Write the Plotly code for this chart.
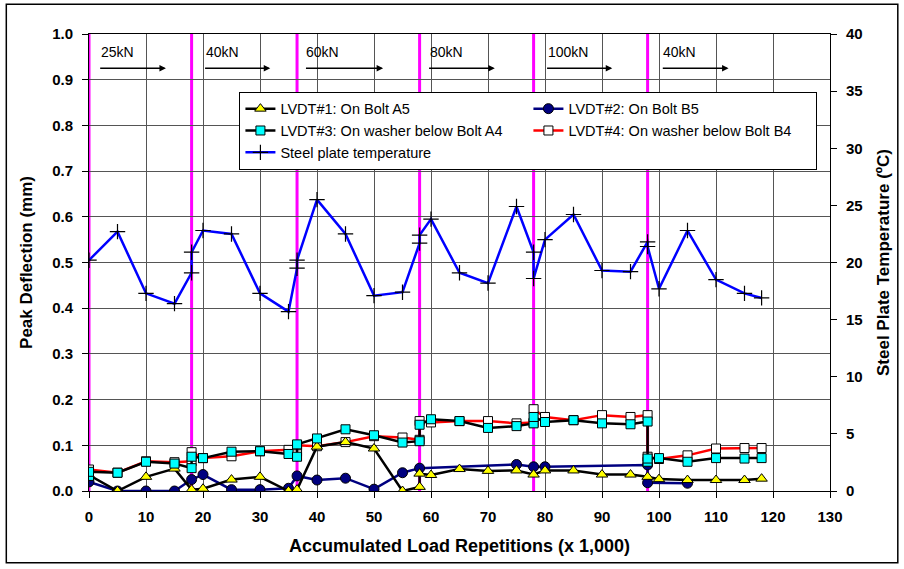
import plotly.graph_objects as go

# ---------------- data ----------------
x_lvdt1 = [0, 5, 10, 15, 18, 20, 25, 30, 35, 36.5, 40, 45, 50, 55, 58, 58, 60, 65, 70, 75, 78, 80, 85, 90, 95, 98, 100, 105, 110, 115, 118]
y_lvdt1 = [0.035, 0.0, 0.031, 0.049, 0.003, 0.005, 0.025, 0.031, 0.0, 0.003, 0.097, 0.107, 0.093, 0.0, 0.009, 0.038, 0.035, 0.048, 0.044, 0.045, 0.036, 0.045, 0.045, 0.036, 0.036, 0.031, 0.026, 0.024, 0.024, 0.024, 0.027]

x_lvdt2 = [0, 5, 10, 15, 18, 20, 25, 30, 35, 36.5, 40, 45, 50, 55, 58, 75, 78, 80, 98, 98, 105]
y_lvdt2 = [0.02, 0.0, 0.0, 0.0, 0.025, 0.036, 0.003, 0.003, 0.006, 0.033, 0.024, 0.028, 0.004, 0.04, 0.05, 0.058, 0.053, 0.053, 0.057, 0.018, 0.017]

x_lvdt3 = [0, 0, 5, 10, 15, 18, 18, 20, 25, 30, 35, 36.5, 36.5, 40, 45, 50, 55, 58, 58, 60, 65, 70, 75, 78, 78, 80, 85, 90, 95, 98, 98, 98, 100, 105, 110, 115, 118]
y_lvdt3 = [0.033, 0.042, 0.04, 0.064, 0.06, 0.05, 0.075, 0.072, 0.086, 0.087, 0.081, 0.075, 0.102, 0.115, 0.135, 0.122, 0.106, 0.109, 0.145, 0.157, 0.153, 0.138, 0.142, 0.148, 0.162, 0.151, 0.155, 0.148, 0.146, 0.152, 0.064, 0.071, 0.072, 0.064, 0.072, 0.071, 0.072]

x_lvdt4 = [0, 5, 10, 15, 18, 18, 20, 25, 30, 35, 36.5, 36.5, 40, 45, 50, 55, 58, 58, 60, 65, 70, 75, 78, 78, 80, 85, 90, 95, 98, 98, 100, 105, 110, 115, 118]
y_lvdt4 = [0.047, 0.04, 0.065, 0.063, 0.065, 0.085, 0.072, 0.076, 0.087, 0.09, 0.086, 0.1, 0.098, 0.107, 0.12, 0.117, 0.112, 0.153, 0.15, 0.153, 0.153, 0.148, 0.15, 0.179, 0.162, 0.155, 0.166, 0.162, 0.166, 0.075, 0.07, 0.078, 0.093, 0.094, 0.094]

x_temp = [0, 5, 10, 15, 18, 18, 20, 25, 30, 35, 36.5, 36.5, 40, 45, 50, 55, 58, 58, 60, 65, 70, 75, 78, 78, 80, 85, 90, 95, 98, 98, 100, 105, 110, 115, 118]
y_temp = [20.2, 22.7, 17.3, 16.4, 19.1, 20.9, 22.8, 22.5, 17.3, 15.7, 19.5, 20.2, 25.5, 22.5, 17.1, 17.4, 21.7, 22.4, 23.8, 19.1, 18.2, 24.9, 20.9, 18.6, 22.0, 24.2, 19.3, 19.2, 21.8, 21.4, 17.7, 22.8, 18.5, 17.3, 16.9]

load_change_x = [0, 18, 36.5, 58, 78, 98]
load_labels = ["25kN", "40kN", "60kN", "80kN", "100kN", "40kN"]
label_x = [1.7, 20.1, 37.8, 59.4, 80.1, 100.4]
arrow_end_x = [13.5, 31.8, 51.6, 71.2, 91.8, 112.2]

names = ["LVDT#1: On Bolt A5", "LVDT#2: On Bolt B5",
         "LVDT#3: On washer below Bolt A4", "LVDT#4: On washer below Bolt B4",
         "Steel plate temperature"]

FONT = "Liberation Sans, Arial, sans-serif"

fig = go.Figure()

# drawing order: LVDT4, LVDT2, LVDT1, LVDT3, temperature
fig.add_trace(go.Scatter(x=x_lvdt4, y=y_lvdt4, name=names[3], mode="lines+markers",
                         line=dict(color="#FF0000", width=2.5),
                         marker=dict(symbol="square", size=9, color="#FFFFFF",
                                     line=dict(color="#000000", width=1)),
                         legendrank=4))
fig.add_trace(go.Scatter(x=x_lvdt2, y=y_lvdt2, name=names[1], mode="lines+markers",
                         line=dict(color="#000080", width=2.5),
                         marker=dict(symbol="circle", size=10, color="#000080",
                                     line=dict(color="#000000", width=1)),
                         legendrank=2))
fig.add_trace(go.Scatter(x=x_lvdt1, y=y_lvdt1, name=names[0], mode="lines+markers",
                         line=dict(color="#000000", width=2.5),
                         marker=dict(symbol="triangle-up", size=10, color="#FFFF00",
                                     line=dict(color="#000000", width=1)),
                         legendrank=1))
fig.add_trace(go.Scatter(x=x_lvdt3, y=y_lvdt3, name=names[2], mode="lines+markers",
                         line=dict(color="#000000", width=2.5),
                         marker=dict(symbol="square", size=9, color="#00FFFF",
                                     line=dict(color="#000000", width=1)),
                         legendrank=3))
fig.add_trace(go.Scatter(x=x_temp, y=y_temp, name=names[4], mode="lines+markers",
                         yaxis="y2",
                         line=dict(color="#0000FF", width=2.5),
                         marker=dict(symbol="cross-thin", size=11, color="#000000",
                                     line=dict(color="#000000", width=1.2)),
                         legendrank=5))

shapes = []
for xv in load_change_x:
    shapes.append(dict(type="line", xref="x", yref="paper", x0=xv, x1=xv, y0=0, y1=1,
                       line=dict(color="#FF00FF", width=3), layer="below"))
# outer chart border
shapes.append(dict(type="rect", xref="paper", yref="paper",
                   x0=-0.1116, x1=1.0915, y0=-0.157, y1=1.065,
                   line=dict(color="#000000", width=1.5), fillcolor="rgba(0,0,0,0)"))

annotations = []
for lbl, lx, ex in zip(load_labels, label_x, arrow_end_x):
    annotations.append(dict(x=lx, y=0.961, xref="x", yref="y", text=lbl, showarrow=False,
                            xanchor="left", yanchor="middle",
                            font=dict(family=FONT, size=14, color="#000000")))
    annotations.append(dict(x=ex, y=0.925, ax=lx, ay=0.925, xref="x", yref="y",
                            axref="x", ayref="y", text="", showarrow=True,
                            arrowhead=2, arrowsize=1, arrowwidth=1.3, arrowcolor="#000000",
                            standoff=0, startstandoff=0))

tickfont = dict(family=FONT, size=15, color="#000000", weight="bold")
xtitlefont = dict(family=FONT, size=18, color="#000000", weight="bold")
ytitlefont = dict(family=FONT, size=17, color="#000000", weight="bold")

fig.update_layout(
    width=904, height=569,
    margin=dict(l=89, r=74, t=34, b=78),
    paper_bgcolor="#FFFFFF", plot_bgcolor="#FFFFFF",
    font=dict(family=FONT, color="#000000"),
    shapes=shapes, annotations=annotations,
    xaxis=dict(range=[0, 130], tick0=0, dtick=10, showgrid=True, gridcolor="#555555", gridwidth=1,
               zeroline=False, showline=True, linecolor="#000000", linewidth=1, mirror=True,
               ticks="outside", ticklen=6, tickcolor="#000000", tickfont=tickfont,
               ticklabelstandoff=6,
               title=dict(text="Accumulated Load Repetitions (x 1,000)", font=xtitlefont)),
    yaxis=dict(range=[0, 1.0], tick0=0, dtick=0.1, tickformat=".1f", showgrid=True,
               gridcolor="#555555", gridwidth=1, zeroline=False, showline=True,
               linecolor="#000000", linewidth=1, ticks="outside", ticklen=6,
               tickcolor="#000000", tickfont=tickfont, ticklabelstandoff=6,
               title=dict(text="Peak Deflection (mm)", font=ytitlefont)),
    yaxis2=dict(range=[0, 40], tick0=0, dtick=5, overlaying="y", side="right",
                showgrid=False, zeroline=False, showline=True, linecolor="#000000",
                linewidth=1, ticks="outside", ticklen=6, tickcolor="#000000",
                tickfont=tickfont, ticklabelstandoff=6,
                title=dict(text="Steel Plate Temperature (ºC)", font=ytitlefont)),
    legend=dict(x=0.203, y=0.8737, xanchor="left", yanchor="top", orientation="h",
                entrywidth=243, bgcolor="#FFFFFF", bordercolor="#000000", borderwidth=1,
                font=dict(family=FONT, size=14.5, color="#000000"),
                traceorder="normal", tracegroupgap=0),
    showlegend=True,
)

fig.write_html("out.html")
